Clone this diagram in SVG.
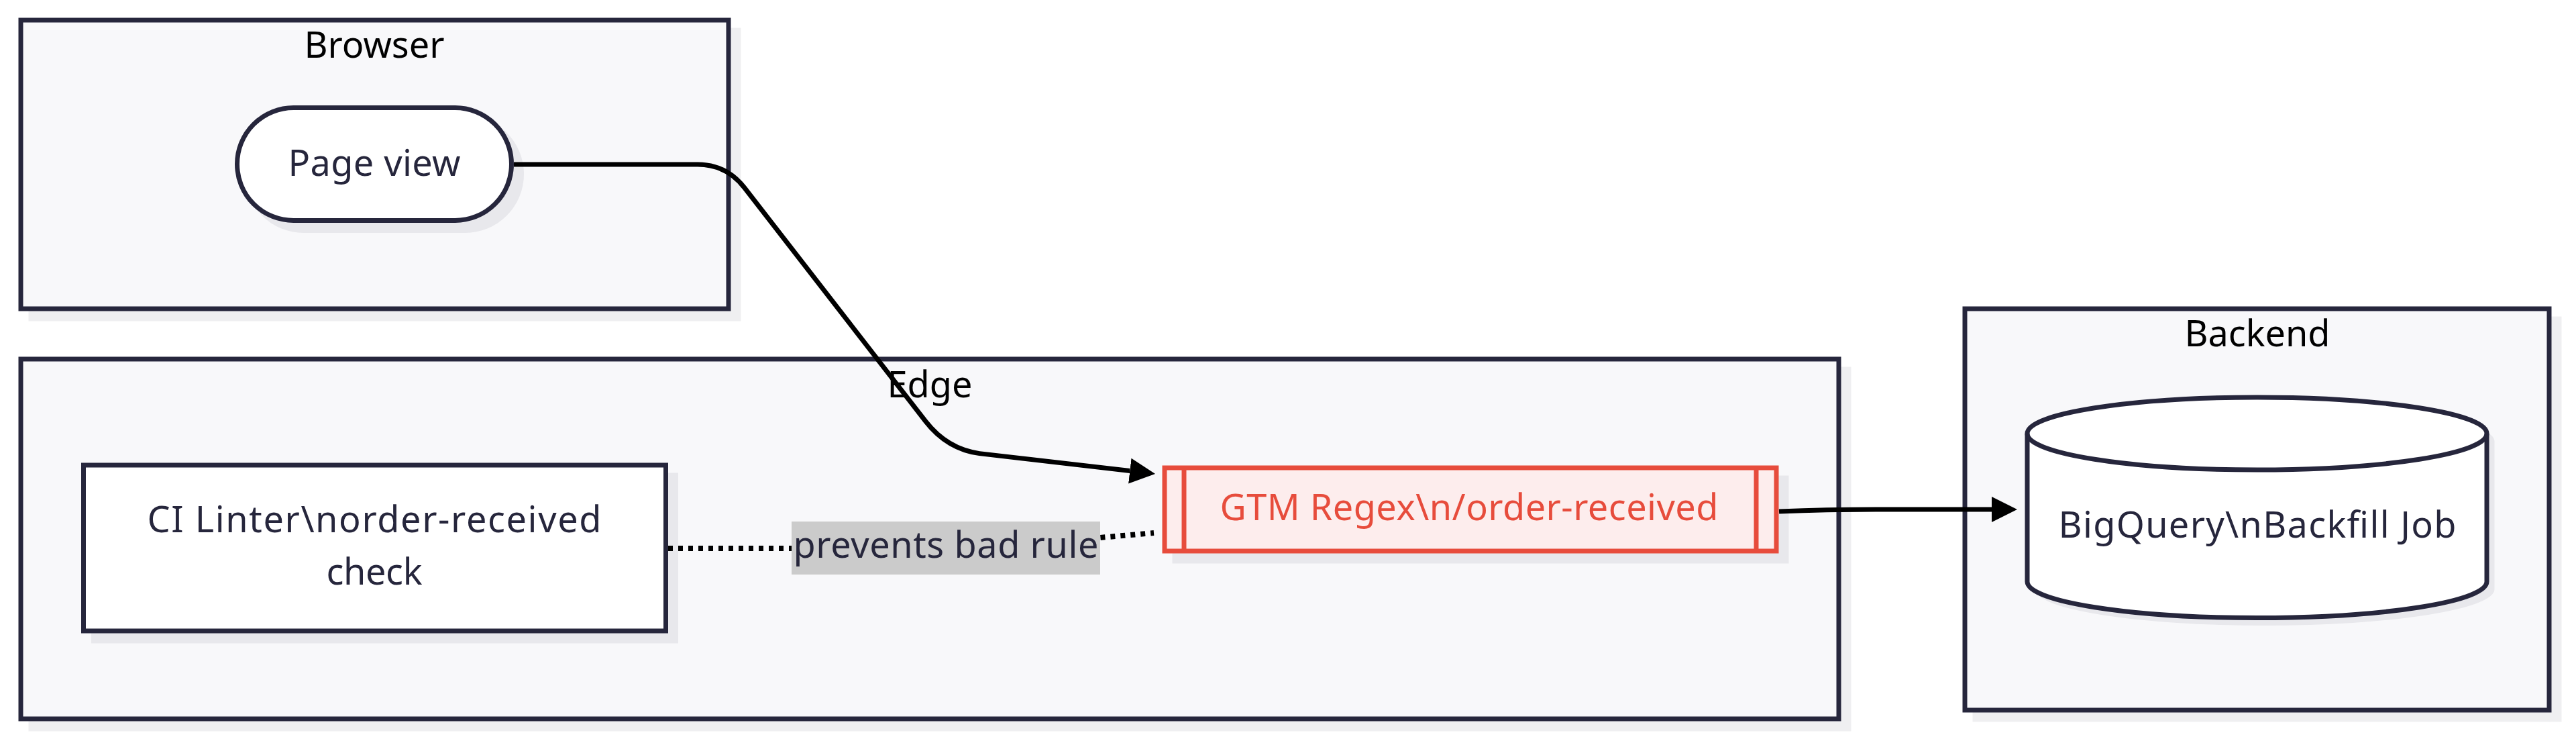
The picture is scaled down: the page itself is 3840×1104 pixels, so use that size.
<svg xmlns="http://www.w3.org/2000/svg" width="3840" height="1104" viewBox="0 0 3840 1104">
  <style>
    .shadow { fill: #14142a; fill-opacity: 0.065; stroke: none; }
    .cluster { fill: #f8f8fa; stroke: #26263c; stroke-width: 7; }
    .title { font-family: "Noto Sans", "Open Sans", sans-serif; font-size: 54px; fill: #000000; text-anchor: middle; }
    .node { fill: #ffffff; stroke: #26263c; stroke-width: 7; }
    .label { font-family: "Noto Sans", "Open Sans", sans-serif; font-size: 54px; fill: #26263c; text-anchor: middle; }
    .red { fill: #fdeded; stroke: #e74c3c; stroke-width: 7; }
    .redtext { font-family: "Noto Sans", "Open Sans", sans-serif; font-size: 54px; fill: #e74c3c; text-anchor: middle; }
    .edge { fill: none; stroke: #000000; stroke-width: 7; }
    .dotted { fill: none; stroke: #000000; stroke-width: 8; stroke-dasharray: 7 8; }
    .elbg { fill: #cbcbcb; }
  </style>
  <defs>
    <marker id="arrow" viewBox="0 0 10 10" refX="0" refY="5" markerUnits="userSpaceOnUse" markerWidth="38" markerHeight="48" orient="auto">
      <path d="M0,0 L10,5 L0,10 z" fill="#000000"/>
    </marker>
  </defs>
  <rect width="3840" height="1104" fill="#ffffff"/>

  <g id="cluster-browser">
    <rect class="shadow" x="42.5" y="41.5" width="1062" height="437"/>
    <rect class="cluster" x="31" y="30" width="1055" height="430"/>
    <text class="title" x="558" y="86">Browser</text>
  </g>
  <g id="cluster-edge">
    <rect class="shadow" x="42.5" y="546.5" width="2717" height="543"/>
    <rect class="cluster" x="31" y="535" width="2710" height="536"/>
    <text class="title" x="1386" y="592">Edge</text>
  </g>
  <g id="cluster-backend">
    <rect class="shadow" x="2940.5" y="471.5" width="878" height="604"/>
    <rect class="cluster" x="2929" y="460" width="871" height="598"/>
    <text class="title" x="3365" y="516">Backend</text>
  </g>

  <g id="node-pageview">
    <rect class="shadow" x="365" y="172" width="416" height="175" rx="87.5"/>
    <rect class="node" x="353.5" y="160.5" width="409" height="168" rx="84"/>
    <text class="label" x="558" y="262" textLength="257" lengthAdjust="spacing">Page view</text>
  </g>

  <g id="node-cilinter">
    <rect class="shadow" x="136" y="704.5" width="875" height="254"/>
    <rect class="node" x="124.5" y="693" width="868" height="247"/>
    <text class="label" x="558" y="793" textLength="677" lengthAdjust="spacing">CI Linter\norder-received</text>
    <text class="label" x="558" y="871" textLength="143" lengthAdjust="spacing">check</text>
  </g>

  <g id="node-gtm">
    <rect class="shadow" x="1747.5" y="708.5" width="919" height="131"/>
    <rect class="red" x="1736" y="697" width="912" height="124"/>
    <line x1="1765" y1="697" x2="1765" y2="821" stroke="#e74c3c" stroke-width="7"/>
    <line x1="2618" y1="697" x2="2618" y2="821" stroke="#e74c3c" stroke-width="7"/>
    <text class="redtext" x="2190" y="775" textLength="743" lengthAdjust="spacing">GTM Regex\n/order-received</text>
  </g>

  <g id="node-bigquery">
    <path class="shadow" d="M3033.5,657.5 A342.5,54 0 0 1 3718.5,657.5 L3718.5,878 A342.5,54 0 0 1 3033.5,878 Z"/>
    <path class="node" d="M3022,646 A342.5,54 0 0 1 3707,646 L3707,866.5 A342.5,54 0 0 1 3022,866.5 Z"/>
    <path fill="none" stroke="#26263c" stroke-width="7" d="M3022,646 A342.5,54 0 0 0 3707,646"/>
    <text class="label" x="3365" y="801" textLength="593" lengthAdjust="spacing">BigQuery\nBackfill Job</text>
  </g>

  <g id="connectors">
    <path class="edge" d="M766,245 L1040,245 Q1083,245 1110,280 L1380,628 Q1412,669 1460,675.6 L1684.3,701.6" marker-end="url(#arrow)"/>
    <path class="edge" d="M2652,762 C2700,760 2750,759 2800,759 L2969,759" marker-end="url(#arrow)"/>
    <path class="dotted" d="M996,817 L1300,817 Q1500,817 1640,801 L1720,794"/>
    <g id="edge-label">
      <rect class="elbg" x="1180" y="777" width="460" height="79"/>
      <text class="label" x="1410" y="831" textLength="455" lengthAdjust="spacing">prevents bad rule</text>
    </g>
  </g>
</svg>
